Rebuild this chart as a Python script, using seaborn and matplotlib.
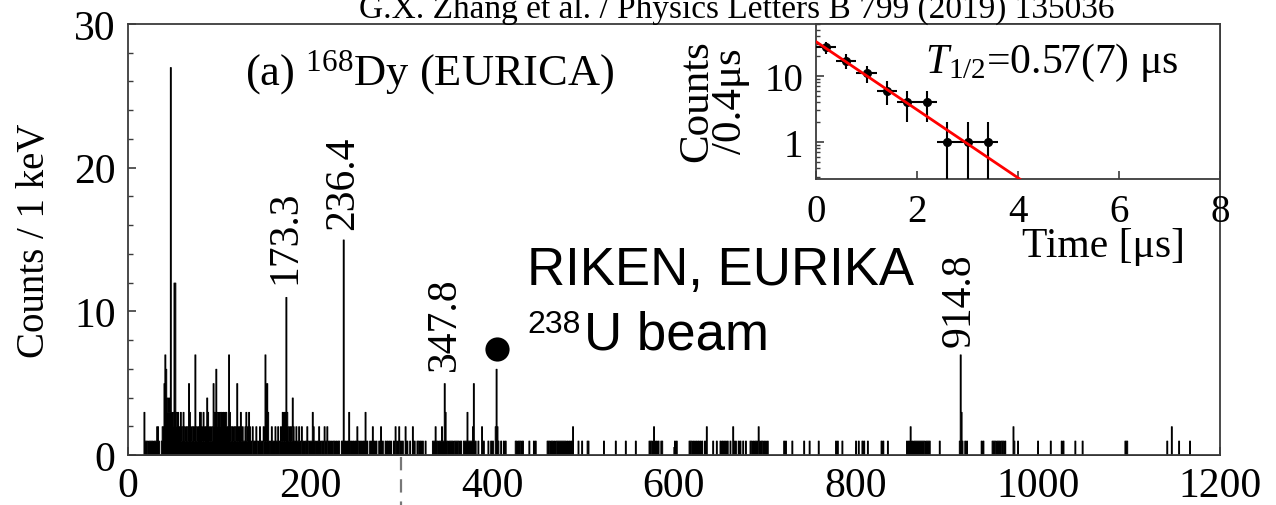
import numpy as np
import pandas as pd
import matplotlib
matplotlib.use("Agg")
import matplotlib.pyplot as plt
import seaborn as sns
from matplotlib.ticker import MultipleLocator, FixedLocator, LogLocator, NullFormatter

# ---------------- data ----------------
dense_start_kev = 15
dense_counts = [
    0, 0, 3, 1, 1, 1, 0, 1, 1, 1,      # 15-24
    1, 1, 0, 1, 1, 1, 2, 2, 1, 0,      # 25-34
    0, 1, 2, 2, 5, 7, 6, 4, 3, 4,      # 35-44
    3, 27, 3, 2, 3, 12, 12, 3, 2, 3,   # 45-54
    2, 2, 3, 1, 2, 3, 2, 1, 2, 2,      # 55-64
    1, 5, 3, 2, 1, 2, 2, 1, 7, 2,      # 65-74
    1, 2, 2, 3, 3, 2, 1, 3, 1, 2,      # 75-84
    2, 4, 3, 2, 1, 2, 1, 2, 5, 3,      # 85-94
    2, 6, 3, 2, 3, 2, 3, 3, 2, 3,      # 95-104
    2, 3, 3, 2, 2, 7, 3, 1, 2, 2,      # 105-114
    1, 2, 2, 1, 5, 1, 2, 2, 3, 1,      # 115-124
    2, 1, 1, 2, 3, 1, 2, 3, 2, 1,      # 125-134
    0, 2, 1, 1, 0, 2, 1, 0, 1, 2,      # 135-144
    1, 1, 0, 2, 1, 7, 1, 5, 3, 1,      # 145-154
    0, 1, 2, 1, 1, 0, 2, 1, 1, 2,      # 155-164
    1, 0, 2, 1, 3, 1, 3, 1, 11, 3,     # 165-174
    2, 1, 2, 2, 1, 4, 2, 1, 0, 2,      # 175-184
    1, 1, 2, 1, 0, 2, 1, 1, 0, 1,      # 185-194
    1, 2, 1, 0, 1, 1, 1, 3, 2, 1,      # 195-204
    1, 0, 1, 1, 2, 1, 0, 1, 1, 0,      # 205-214
    2, 1, 1, 2, 0, 1, 1, 0, 1, 0,      # 215-224
    1, 1, 0, 1, 0, 1, 1, 0, 0, 1,      # 225-234
    1, 15, 0, 1, 0, 1, 0, 3, 1, 0,     # 235-244
    1, 0, 1, 0, 1, 0, 2, 1, 0, 1,      # 245-254
    0, 1, 0, 1, 0, 3, 0, 1, 0, 0,      # 255-264
    1, 0, 1, 2, 0, 1, 0, 1, 0, 0,      # 265-274
    1, 0, 2, 0, 1, 0, 0, 1, 0, 1,      # 275-284
    0, 1, 0, 1, 0, 0, 1, 0, 2, 1,      # 285-294
    0, 1, 2, 0, 1, 0, 1, 0, 0, 2,      # 295-304
    0, 1, 0, 0, 1, 0, 0, 2, 0, 1,      # 305-314
    0, 0, 1, 1, 0, 1, 1, 0, 1, 0,      # 315-324
    0, 1, 0, 0, 0, 0, 0, 0, 0, 1,      # 325-334
    1, 1, 2, 1, 1, 0, 1, 1, 1, 2,      # 335-344
    1, 1, 5, 3, 1, 1, 0, 1, 1, 1,      # 345-354
]
sparse_kev = [
    355, 356, 358, 359, 360, 361, 362, 364, 365,
    368, 369, 370, 371, 372, 373, 374, 375, 376, 377, 378, 379, 380, 381,
    384, 388, 389, 390,
    395, 398, 400, 403, 404, 405, 406, 409, 412, 414,
    425, 426, 428, 429, 430, 432, 433, 440, 445, 447,
    460, 461, 462, 464, 465, 466, 468, 470, 471, 472, 473, 474, 475, 476,
    477, 478, 479, 480, 482, 484, 486, 488,
    494, 498, 504, 505, 522, 535, 546, 557,
    572, 573, 574, 576, 577, 578, 580, 582, 585, 586, 600, 602,
    616, 617, 618, 620, 622, 624, 626, 628, 630, 633, 635,
    642, 646, 650, 652, 654, 656, 658, 661, 664, 665, 667, 670, 672, 675, 678,
    683, 684, 686, 688, 689, 690, 692, 693, 695, 696, 698, 700, 702,
    720, 722, 729, 742, 748, 758,
    777, 779, 784, 799, 802, 806, 808, 812, 827, 829, 834,
    855, 857, 859, 861, 863, 864, 865, 866, 867, 868, 869, 870, 871, 872,
    873, 874, 876, 877, 878, 879, 880,
    891, 913, 914, 915, 916, 919, 921,
    937, 939, 949, 950, 951, 952, 954, 955, 956, 957, 959, 960, 961, 963,
    972, 973, 977,
    999, 1013, 1025, 1027, 1040, 1048, 1095, 1096, 1097,
    1141, 1146, 1154, 1166,
]
sparse_counts = [
    1, 1, 1, 1, 1, 1, 1, 1, 1,
    1, 1, 1, 1, 3, 1, 1, 1, 1, 1, 2, 5, 1, 1,
    1, 2, 1, 1,
    1, 1, 1, 2, 6, 2, 1, 1, 1, 1,
    1, 1, 1, 1, 1, 1, 1, 1, 1, 1,
    1, 1, 1, 1, 1, 1, 1, 1, 1, 1, 1, 1, 1, 1,
    1, 1, 1, 1, 1, 1, 1, 2,
    1, 1, 1, 1, 1, 1, 1, 1,
    1, 1, 1, 1, 2, 1, 1, 1, 1, 1, 1, 1,
    1, 1, 1, 1, 1, 1, 1, 1, 1, 1, 2,
    1, 1, 1, 1, 1, 1, 1, 1, 2, 1, 1, 1, 1, 1, 1,
    1, 1, 1, 1, 1, 1, 2, 1, 1, 1, 1, 1, 1,
    1, 1, 1, 1, 1, 1,
    1, 1, 1, 1, 1, 1, 1, 1, 1, 1, 1,
    1, 1, 2, 1, 1, 1, 1, 1, 1, 1, 1, 1, 1, 1,
    1, 1, 1, 1, 1, 1, 1,
    1, 1, 7, 3, 1, 1, 1,
    1, 1, 1, 1, 1, 1, 1, 1, 1, 1, 1, 1, 1, 1,
    2, 1, 1,
    1, 1, 1, 1, 1, 1, 1, 1, 1,
    1, 2, 1, 1,
]

peak_labels = ["173.3", "236.4", "347.8", "914.8"]
peak_label_kev = [172.5, 236.3, 348.0, 914.0]
peak_label_base = [12.0, 15.7, 5.9, 7.6]

marker_kev = [405.5]
marker_counts = [7.4]

x_ticks = [0, 200, 400, 600, 800, 1000, 1200]
y_ticks = [0, 10, 20, 30]

decay_time = [0.2, 0.6, 1.0, 1.4, 1.8, 2.2, 2.6, 3.0, 3.4]
decay_counts = [27, 17, 11, 6, 4, 4, 1, 1, 1]
decay_err_lo = [5.2, 4.1, 3.3, 2.4, 2.0, 2.0, 0.99, 0.99, 0.99]
decay_err_hi = [5.2, 4.1, 3.3, 2.4, 2.0, 2.0, 1.0, 1.0, 1.0]
decay_bin_half = [0.2] * 9
fit_time = [0.0, 4.05]
fit_counts = [33.0, 0.27]
inset_x_ticks = [0, 2, 4, 6, 8]
inset_y_ticks = [1, 10]

# ---------------- style ----------------
sns.set_style("white")
plt.rcParams["font.family"] = ["Liberation Serif", "DejaVu Serif"]
plt.rcParams["text.color"] = "black"
plt.rcParams["axes.labelcolor"] = "black"
plt.rcParams["mathtext.fontset"] = "custom"
plt.rcParams["mathtext.rm"] = "Liberation Serif"
plt.rcParams["mathtext.it"] = "Liberation Serif:italic"
plt.rcParams["mathtext.bf"] = "Liberation Serif:bold"

W, H = 1276, 506
fig = plt.figure(figsize=(W / 100, H / 100), dpi=100)
fig.patch.set_facecolor("white")

def fx(px):
    return px / W

def fy(py):
    return 1 - py / H

spine_col = "#3c3c3c"

# ---------------- main spectrum ----------------
ax = fig.add_axes([fx(128), fy(456), fx(1220 - 128), (456 - 25) / H])
dense_kev = np.arange(dense_start_kev, dense_start_kev + len(dense_counts))
df = pd.DataFrame({
    "energy": np.concatenate([dense_kev, np.array(sparse_kev)]) + 0.5,
    "counts": np.concatenate([np.array(dense_counts), np.array(sparse_counts)]),
})
sns.histplot(data=df, x="energy", weights="counts", binwidth=1, binrange=(0, 1200),
             element="step", fill=True, alpha=1.0, color="black",
             edgecolor="black", linewidth=0.7, ax=ax)

ax.set_xlim(0, 1200)
ax.set_ylim(0, 30)
ax.set_xlabel("")
ax.set_ylabel("")
ax.xaxis.set_major_locator(FixedLocator(x_ticks))
ax.yaxis.set_major_locator(FixedLocator(y_ticks))
ax.yaxis.set_minor_locator(MultipleLocator(2))
ax.tick_params(axis="both", which="both", direction="in", colors=spine_col,
               labelcolor="black", labelsize=30)
ax.tick_params(axis="x", which="major", length=6, width=1.2, pad=8, bottom=True)
ax.tick_params(axis="y", which="major", length=6, width=1.2, pad=9, left=True)
ax.tick_params(axis="y", which="minor", length=3.5, width=1.0, left=True)
for s in ax.spines.values():
    s.set_color(spine_col)
    s.set_linewidth(1.3)

# peak labels
for lab, xk, yb in zip(peak_labels, peak_label_kev, peak_label_base):
    ax.text(xk, yb, lab, rotation=90, ha="center", va="bottom", fontsize=30)

# filled circle
sns.scatterplot(x=marker_kev, y=marker_counts, s=260, color="black",
                edgecolor="black", ax=ax, legend=False, zorder=5)

# dashed mark below axis at 300 keV
ax.plot([300, 300], [-0.005, -0.13], transform=ax.get_xaxis_transform(),
        color="#777777", lw=1.6, ls=(0, (6, 4)), clip_on=False)

ax.text(0.107, 0.861, r"(a) $^{168}$Dy (EURICA)", transform=ax.transAxes,
        fontsize=32, ha="left", va="baseline")

# ---------------- inset ----------------
axi = fig.add_axes([fx(816), fy(180), fx(1220 - 816), (180 - 25) / H])
axi.set_facecolor("white")
axi.set_yscale("log")
axi.errorbar(decay_time, decay_counts, xerr=decay_bin_half,
             yerr=[decay_err_lo, decay_err_hi], fmt="o", color="black",
             ms=5.5, elinewidth=1.5, capsize=0, zorder=3)
sns.lineplot(x=fit_time, y=fit_counts, color="red", linewidth=2.0, ax=axi,
             zorder=4, legend=False)
axi.set_xlim(0, 8)
axi.set_ylim(0.275, 61)
axi.set_xlabel("")
axi.set_ylabel("")
axi.xaxis.set_major_locator(FixedLocator(inset_x_ticks))
axi.yaxis.set_major_locator(FixedLocator(inset_y_ticks))
axi.set_yticklabels(["1", "10"])
axi.yaxis.set_minor_locator(LogLocator(base=10, subs=np.arange(2, 10)))
axi.yaxis.set_minor_formatter(NullFormatter())
axi.tick_params(axis="both", which="both", direction="in", colors=spine_col,
                labelcolor="black", labelsize=28)
axi.tick_params(axis="x", which="major", length=6, width=1.2, pad=10, bottom=True)
axi.tick_params(axis="y", which="major", length=6, width=1.2, pad=9, left=True)
axi.tick_params(axis="y", which="minor", length=3, width=1.0, left=True)
for s in axi.spines.values():
    s.set_color(spine_col)
    s.set_linewidth(1.3)

axi.text(0.27, 0.69, r"$T_{1/2}$=0.57(7) μs", transform=axi.transAxes,
         fontsize=30, ha="left", va="baseline")

# ---------------- figure texts ----------------
fig.text(fx(737), fy(18), "G.X. Zhang et al. / Physics Letters B 799 (2019) 135036",
         fontsize=24, ha="center", va="baseline")
fig.text(fx(35), fy(241), "Counts / 1 keV", rotation=90, fontsize=28,
         ha="center", va="center")
fig.text(fx(714), fy(101), "Counts\n/0.4μs", rotation=90, fontsize=31,
         ha="center", va="center", multialignment="center", linespacing=0.85)
fig.text(fx(1103), fy(247), "Time [μs]", fontsize=30, ha="center", va="center")

sans = ["Liberation Sans", "DejaVu Sans"]
fig.text(fx(527), fy(285), "RIKEN, EURIKA", fontsize=38, family=sans,
         ha="left", va="baseline", color="black")
fig.text(fx(527), fy(333), "238", fontsize=23, family=sans,
         ha="left", va="baseline", color="black")
fig.text(fx(584), fy(350), "U beam", fontsize=38, family=sans,
         ha="left", va="baseline", color="black")

fig.savefig("out.png", dpi=100, facecolor="white")
